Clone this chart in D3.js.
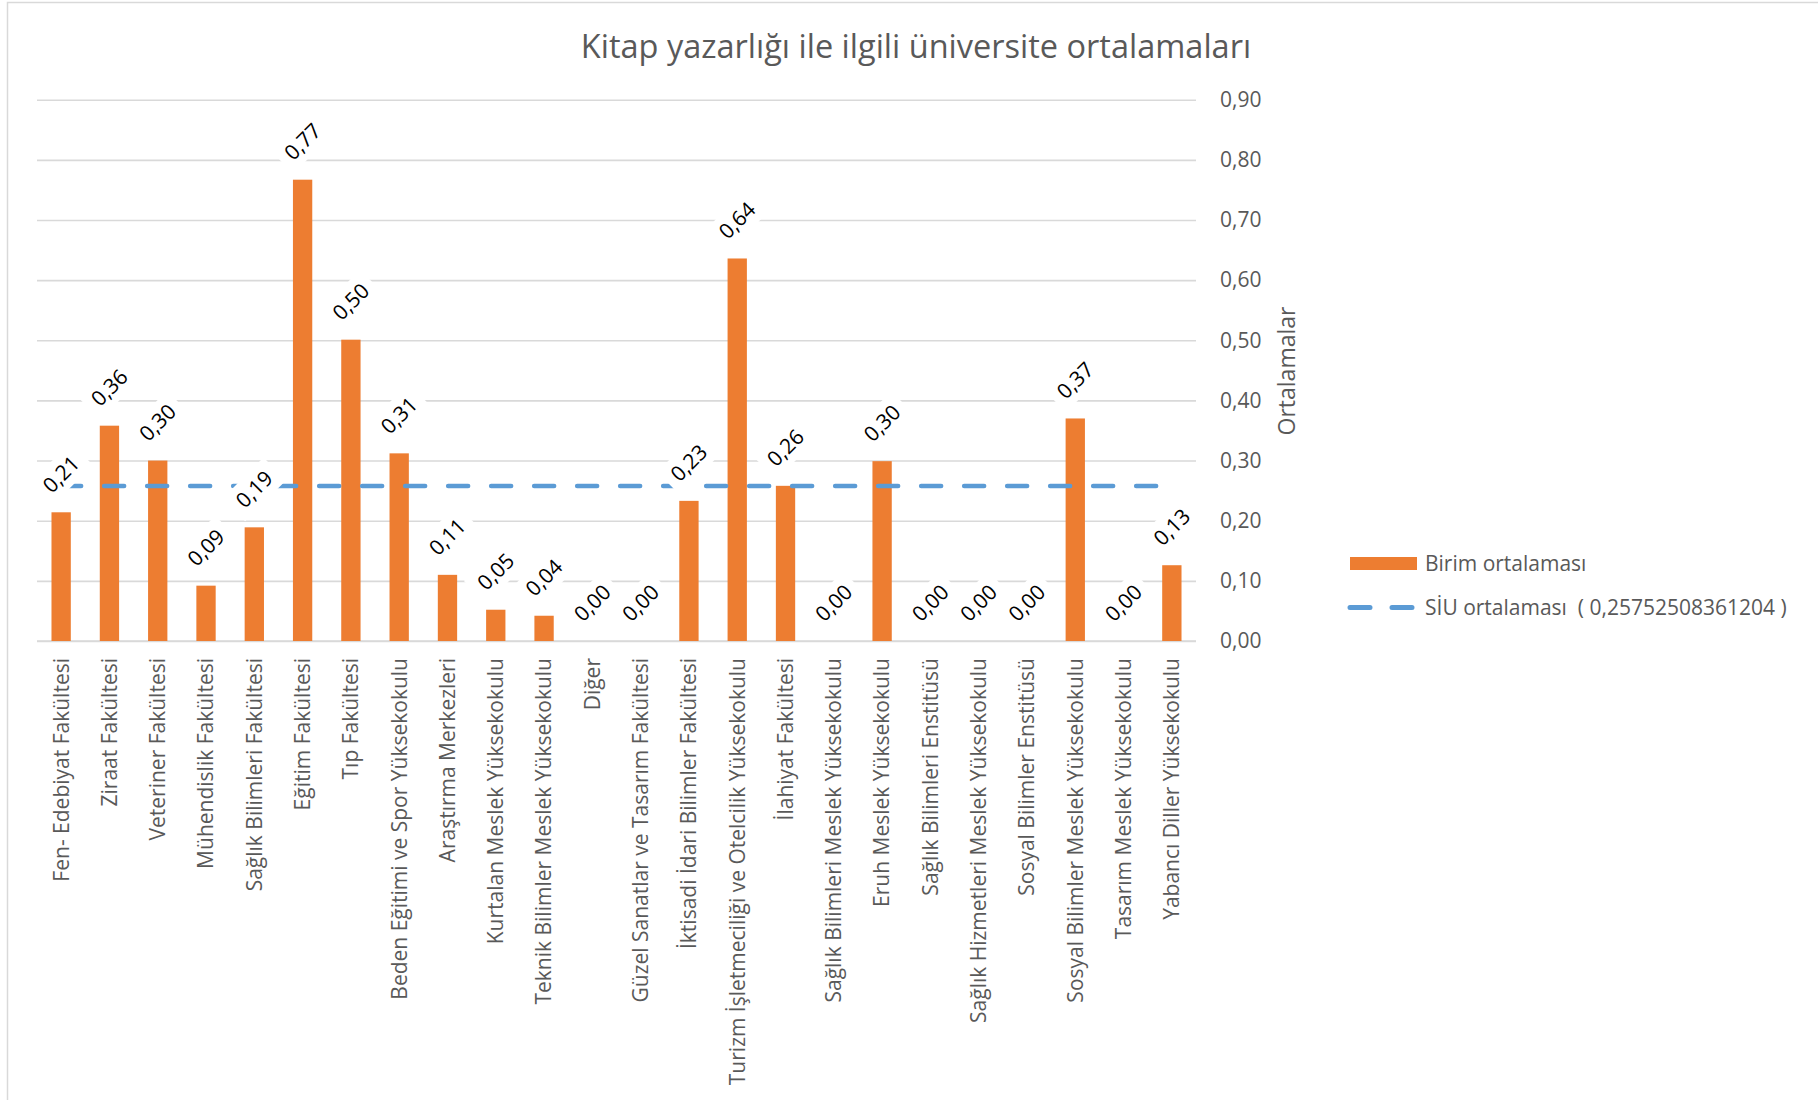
<!DOCTYPE html>
<html>
<head>
<meta charset="utf-8">
<script src="https://cdn.jsdelivr.net/npm/d3@7"></script>
<style>
  body { margin: 0; background: #fff; }
  text { font-family: "Open Sans", sans-serif; }
</style>
</head>
<body>
<div id="container"></div>
<script>
let w = 1818;
let h = 1100;

// categories (units) and their averages
let units = [
  "Fen- Edebiyat Fakültesi", "Ziraat Fakültesi", "Veteriner Fakültesi",
  "Mühendislik Fakültesi", "Sağlık Bilimleri Fakültesi", "Eğitim Fakültesi",
  "Tıp Fakültesi", "Beden Eğitimi ve Spor Yüksekokulu", "Araştırma Merkezleri",
  "Kurtalan Meslek Yüksekokulu", "Teknik Bilimler Meslek Yüksekokulu", "Diğer",
  "Güzel Sanatlar ve Tasarım Fakültesi", "İktisadi İdari Bilimler Fakültesi",
  "Turizm İşletmeciliği ve Otelcilik Yüksekokulu", "İlahiyat Fakültesi",
  "Sağlık Bilimleri Meslek Yüksekokulu", "Eruh Meslek Yüksekokulu",
  "Sağlık Bilimleri Enstitüsü", "Sağlık Hizmetleri Meslek Yüksekokulu",
  "Sosyal Bilimler Enstitüsü", "Sosyal Bilimler Meslek Yüksekokulu",
  "Tasarım Meslek Yüksekokulu", "Yabancı Diller Yüksekokulu"
];
let unitMeans = [
  0.214, 0.358, 0.300, 0.092, 0.189, 0.767,
  0.501, 0.312, 0.110, 0.052, 0.042, 0,
  0, 0.233, 0.636, 0.258, 0, 0.299,
  0, 0, 0, 0.370, 0, 0.126
];
let siuMean = 0.25752508361204;
let yTicks = [0, 0.1, 0.2, 0.3, 0.4, 0.5, 0.6, 0.7, 0.8, 0.9];

let titleText = "Kitap yazarlığı ile ilgili üniversite ortalamaları";
let yTitle = "Ortalamalar";
let legendBars = "Birim ortalaması";
let legendLine = "SİU ortalaması  ( 0,25752508361204 )";

let data = units.map(function(u, i){ return {name: u, value: unitMeans[i]}; });

let tr = d3.formatLocale({decimal: ",", thousands: ".", grouping: [3], currency: ["", ""]});
let fmt = tr.format(".2f");

let viz = d3.select("#container")
  .append("svg")
    .attr("width", w)
    .attr("height", h)
    .style("background-color", "#fff");

// chart border
viz.append("rect")
  .attr("x", 7.5).attr("y", 2.5)
  .attr("width", 1830).attr("height", 1120)
  .attr("fill", "none")
  .attr("stroke", "#d9d9d9")
  .attr("stroke-width", 1.5);

let plotLeft = 37, plotRight = 1196, plotTop = 99.7, plotBottom = 641;

let x = d3.scaleBand()
  .domain(units)
  .range([plotLeft, plotRight])
  .paddingInner(0.6)
  .paddingOuter(0.3);

let y = d3.scaleLinear()
  .domain([0, 0.9])
  .range([plotBottom, plotTop]);

// y axis on the right with gridlines
let yAxis = viz.append("g")
  .attr("transform", "translate(" + plotRight + ",0)")
  .call(d3.axisRight(y).tickValues(yTicks).tickFormat(fmt)
    .tickSize(-(plotRight - plotLeft)).tickPadding(24));
yAxis.select(".domain").remove();
yAxis.selectAll(".tick line").attr("stroke", "#d9d9d9").attr("stroke-width", 1.6);
yAxis.selectAll(".tick text")
  .attr("fill", "#595959")
  .style("font-size", "21px");

// x axis
let xAxis = viz.append("g")
  .attr("transform", "translate(0," + plotBottom + ")")
  .call(d3.axisBottom(x).tickSize(0));
xAxis.select(".domain").attr("stroke", "#d9d9d9").attr("stroke-width", 1.6)
  .attr("d", "M" + plotLeft + ",0H" + plotRight);
xAxis.selectAll(".tick text")
  .attr("fill", "#595959")
  .style("font-size", "21px")
  .attr("text-anchor", "end")
  .attr("transform", "rotate(-90)")
  .attr("x", -17)
  .attr("y", 0)
  .attr("dy", "0.35em");

// bars
viz.selectAll(".bar").data(data).enter()
  .append("rect")
    .attr("class", "bar")
    .attr("x", function(d){ return x(d.name); })
    .attr("width", x.bandwidth())
    .attr("y", function(d){ return y(d.value); })
    .attr("height", function(d){ return plotBottom - y(d.value); })
    .attr("fill", "#ED7D31");

// university average line
let line = d3.line()
  .x(function(d){ return x(d.name) + x.bandwidth() / 2; })
  .y(function(){ return y(siuMean); });

viz.append("path")
  .datum(data)
  .attr("d", line)
  .attr("fill", "none")
  .attr("stroke", "#5B9BD5")
  .attr("stroke-width", 4.5)
  .attr("stroke-linecap", "round")
  .attr("stroke-dasharray", "20 23");

// data labels
let labels = viz.selectAll(".lbl").data(data).enter()
  .append("g")
    .attr("class", "lbl")
    .attr("transform", function(d){
      return "translate(" + (x(d.name) + x.bandwidth() / 2) + "," + (y(d.value) - 38) + ") rotate(-45)";
    });
labels.append("rect")
  .attr("x", -29).attr("y", -16)
  .attr("width", 58).attr("height", 32)
  .attr("fill", "#fff");
labels.append("text")
  .text(function(d){ return fmt(d.value); })
  .attr("text-anchor", "middle")
  .attr("dy", "0.35em")
  .attr("fill", "#000")
  .style("font-size", "21px");

// title
viz.append("text")
  .text(titleText)
  .attr("x", 916)
  .attr("y", 58)
  .attr("text-anchor", "middle")
  .attr("fill", "#595959")
  .style("font-size", "32.5px");

// y axis title
viz.append("text")
  .text(yTitle)
  .attr("transform", "translate(1287,371) rotate(-90)")
  .attr("text-anchor", "middle")
  .attr("dy", "0.35em")
  .attr("fill", "#595959")
  .style("font-size", "23px");

// legend
viz.append("rect")
  .attr("x", 1350).attr("y", 557)
  .attr("width", 67).attr("height", 13)
  .attr("fill", "#ED7D31");
viz.append("text")
  .text(legendBars)
  .attr("x", 1425).attr("y", 571)
  .attr("fill", "#595959")
  .style("font-size", "21px");

viz.append("line")
  .attr("x1", 1350).attr("x2", 1412)
  .attr("y1", 607.5).attr("y2", 607.5)
  .attr("stroke", "#5B9BD5")
  .attr("stroke-width", 5)
  .attr("stroke-linecap", "round")
  .attr("stroke-dasharray", "20 22");
viz.append("text")
  .text(legendLine)
  .attr("x", 1425).attr("y", 615)
  .attr("fill", "#595959")
  .style("white-space", "pre")
  .style("font-size", "21px");
</script>
</body>
</html>
